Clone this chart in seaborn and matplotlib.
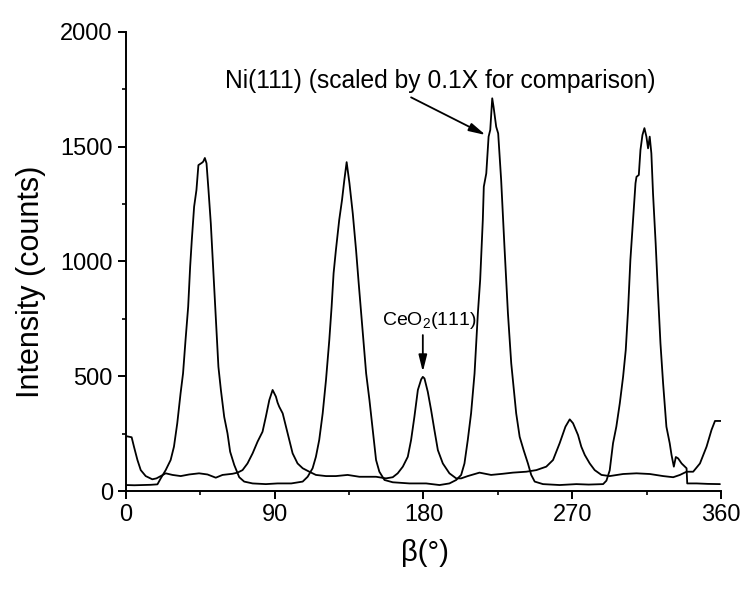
import numpy as np
import pandas as pd
import matplotlib
matplotlib.use("Agg")
import matplotlib.pyplot as plt
import seaborn as sns

# Phi-scan (beta) intensities, degrees vs. counts
ni_beta = [0, 5, 10, 15, 19, 21, 24, 27, 29, 31, 33, 34.5, 36, 37.6, 38.8, 39.8, 41.2,
           42.6, 43.8, 45.9, 46.7, 47.7, 48.7, 49.9, 51.3, 52.9, 54.3, 55.9, 57.4, 59.4,
           61.4, 63, 65.5, 68.5, 71.5, 76.6, 84.6, 91.7, 100, 106.9, 109.9, 112.9, 114.9,
           116.9, 119, 121, 123, 124.4, 125.6, 127, 129, 130.7, 132.1, 133.5, 135.2, 137.2,
           139.2, 140.8, 143.3, 145.3, 147.3, 149.3, 151.3, 153.3, 156.4, 161.4, 171.5,
           181.6, 189.7, 195.7, 199.8, 202.8, 204.8, 206.8, 208.8, 210.9, 212.9, 214.3,
           215.9, 216.5, 218, 219.4, 220.4, 221.6, 222.4, 224, 225.2, 227, 229, 231.1,
           233.1, 236.1, 238.2, 240.6, 243.2, 245.2, 247.3, 252.3, 262.4, 272.5, 280,
           288.7, 290.7, 292.7, 294.7, 296.7, 298.8, 300.8, 302.4, 303.8, 305.2, 306.8,
           308.3, 308.9, 310.3, 311.3, 312.5, 313.7, 314.9, 315.9, 316.9, 317.9, 318.9,
           320.5, 321.9, 323.4, 325, 327, 329, 330.1, 331.5, 332.7, 334.1, 336.2, 338.2,
           339.2, 339.6, 345.3, 352, 359.4]
ni_counts = [26, 25, 26, 27, 29, 55, 91, 135, 193, 295, 425, 512, 657, 802, 977, 1093, 1238,
             1310, 1419, 1429, 1434, 1450, 1427, 1310, 1165, 948, 759, 541, 440, 323,
             251, 171, 113, 60, 41, 33, 30, 33, 33, 41, 62, 99, 149,
             222, 338, 483, 657, 802, 948, 1049, 1180, 1267, 1354, 1432, 1340, 1209,
             1049, 904, 686, 512, 396, 266, 135, 84, 48, 38, 33,
             33, 26, 33, 48, 70, 120, 222, 338, 512, 773, 919,
             1180, 1325, 1383, 1543, 1572, 1710, 1673, 1586, 1557, 1354, 1064, 774,
             556, 338, 236, 178, 120, 70, 41, 30, 26, 30, 28,
             30, 45, 90, 208, 280, 382, 498, 614, 788, 1006, 1180,
             1340, 1368, 1376, 1485, 1550, 1580, 1543, 1492, 1543, 1470, 1296,
             1078, 861, 643, 469, 280, 208, 157, 106, 148, 142, 120, 106,
             99, 33, 33, 31, 30]

ceo2_beta = [0, 3.4, 4.8, 6.9, 8.9, 11.9, 15.9, 18.4, 21, 24, 28.1, 33.1, 38.2, 44.2, 49.3,
             54.3, 58.4, 64.4, 67.5, 70.5, 73.5, 76.6, 79.6, 82.6, 84.6, 86.7, 88.7, 90.7,
             91.7, 92.7, 94.8, 96.8, 98.8, 100.8, 103.8, 106.9, 110.9, 114.9, 121, 127,
             134.1, 141.2, 151.3, 157.3, 161.4, 164.4, 167.5, 170.5, 172.5, 174.5, 176.6,
             178.6, 179.6, 180.6, 182.6, 184.6, 186.6, 188.7, 191.7, 195.7, 199.8, 202.8,
             206.8, 213.9, 220.9, 228, 234.1, 242.2, 248.3, 254.3, 258.4, 262.4, 265.9,
             268.5, 270.5, 273.5, 275.5, 277.6, 280.6, 283.6, 287.7, 292.7, 300.8, 308.9,
             317, 325, 331.1, 335.2, 339.2, 343.2, 347.3, 351.3, 354.3, 356.4, 360]
ceo2_counts = [239, 234, 193, 135, 91, 65, 51, 55, 65, 77, 70, 65, 72, 77, 72,
               58, 70, 75, 80, 91, 120, 164, 215, 258, 323, 396, 440, 411,
               385, 367, 338, 280, 222, 164, 120, 99, 84, 70, 65, 65,
               70, 62, 62, 55, 60, 77, 106, 149, 222, 323, 440,
               486, 497, 490, 432, 353, 266, 178, 120, 77, 55, 55,
               65, 80, 70, 75, 80, 84, 91, 106, 135, 208, 280,
               312, 295, 244, 193, 157, 120, 91, 70, 65, 74, 77,
               74, 65, 60, 70, 84, 84, 120, 193, 266, 305, 305]

x_ticks = [0, 90, 180, 270, 360]
y_ticks = [0, 500, 1000, 1500, 2000]

ni_label = "Ni(111) (scaled by 0.1X for comparison)"
ceo2_label = "CeO$_2$(111)"

sns.set_theme(style="ticks", rc={
    "axes.linewidth": 1.4,
    "xtick.major.width": 1.4, "ytick.major.width": 1.4,
    "xtick.minor.width": 1.2, "ytick.minor.width": 1.2,
    "xtick.major.size": 5.5, "ytick.major.size": 5.5,
    "xtick.minor.size": 3.0, "ytick.minor.size": 3.0,
    "xtick.direction": "out", "ytick.direction": "out",
    "axes.edgecolor": "black",
    "xtick.color": "black", "ytick.color": "black",
    "text.color": "black", "axes.labelcolor": "black",
})
plt.rcParams["font.family"] = ["Liberation Sans", "DejaVu Sans"]
plt.rcParams["mathtext.default"] = "regular"

ni_df = pd.DataFrame({"beta": ni_beta, "counts": ni_counts})
ceo2_df = pd.DataFrame({"beta": ceo2_beta, "counts": ceo2_counts})

fig = plt.figure(figsize=(7.44, 5.92), dpi=100)
ax = fig.add_axes([0.1694, 0.1706, 0.7996, 0.7759])

sns.lineplot(data=ceo2_df, x="beta", y="counts", ax=ax, color="black",
             linewidth=1.3, estimator=None, sort=False)
sns.lineplot(data=ni_df, x="beta", y="counts", ax=ax, color="black",
             linewidth=1.3, estimator=None, sort=False)

ax.set_xlim(0, 360)
ax.set_ylim(0, 2000)
ax.set_xticks(x_ticks)
ax.set_yticks(y_ticks)
ax.set_xticks([45, 135, 225, 315], minor=True)
ax.set_yticks([250, 750, 1250, 1750], minor=True)
ax.tick_params(axis="both", which="major", labelsize=17, pad=4)
sns.despine(ax=ax)

ax.set_xlabel("β(°)", fontsize=21)
ax.set_ylabel("Intensity (counts)", fontsize=22)
ax.xaxis.set_label_coords(0.5025, -0.105)
ax.yaxis.set_label_coords(-0.134, 0.456)

arrow_kw = dict(arrowstyle="-|>,head_length=1.0,head_width=0.25",
                color="black", lw=1.3, mutation_scale=10, shrinkA=0, shrinkB=0)
ax.annotate("", xy=(217.6, 1550), xytext=(172.5, 1714), arrowprops=arrow_kw)
ax.text(190, 1755, ni_label, ha="center", va="baseline", fontsize=17.7)

ax.annotate("", xy=(179.6, 519), xytext=(179.6, 679), arrowprops=arrow_kw)
ax.text(183.8, 723, ceo2_label, ha="center", va="baseline", fontsize=14)

fig.savefig("out.png", dpi=100, facecolor="white")
